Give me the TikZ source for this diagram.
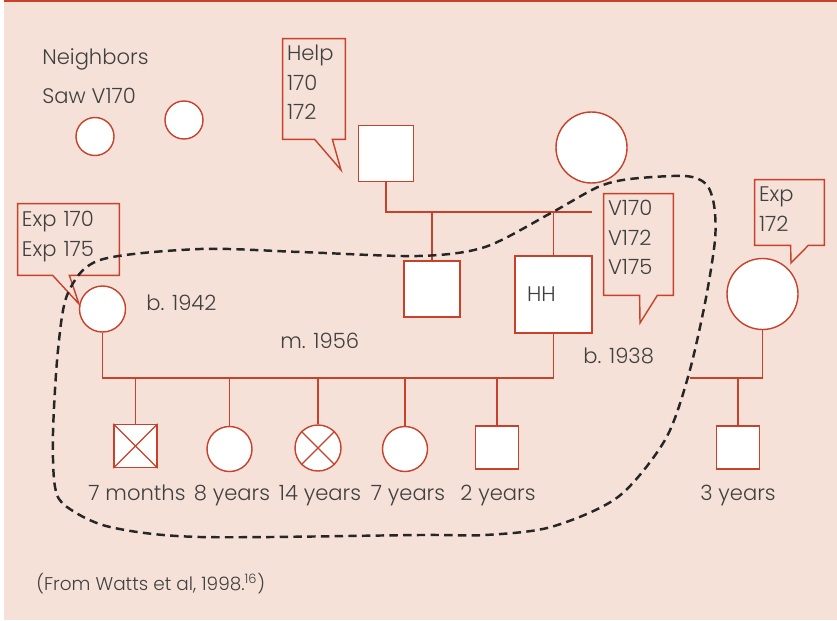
\documentclass[tikz,border=0pt]{standalone}
\usepackage{fontspec}
\setmainfont{Poppins}[UprightFont=* Light]
\usepackage{tikz}
\usepackage{xcolor}
\usetikzlibrary{positioning,calc}
\definecolor{pedred}{HTML}{C8412B}
\definecolor{pedbg}{HTML}{F5E1D8}
\definecolor{pedtext}{HTML}{404040}

\begin{document}
\begin{tikzpicture}[scale=0.2]
\tikzstyle{every node}+=[inner sep=0pt, text=pedtext, font=\fontsize{12}{16.8}\selectfont]
\tikzstyle{male}=[rectangle, draw=pedred, fill=white, line width=0.8pt]
\tikzstyle{female}=[circle, draw=pedred, fill=white, line width=0.8pt]
\tikzstyle{kin}=[draw=pedred, line width=0.8pt]
\tikzstyle{notebox}=[rectangle]
\tikzstyle{note}=[align=left]
\tikzstyle{lbl}=[anchor=base]
\useasboundingbox (0,0) rectangle (83.7,-62);
\fill [white] (0,0) rectangle (83.7,-62);
\fill [pedbg] (0.4,0) rectangle (83.7,-62);
\fill [pedred] (0.4,0) rectangle (83.7,-0.25);
\node (nbtitle) [anchor=base west] at (4.2,-6.5) {Neighbors};
\node (nbsaw) [anchor=base west] at (4.2,-10.4) {Saw V170};
\node (nbA) [female, minimum size=0.76cm] at (9.5,-13.65) {};
\node (nbB) [female, minimum size=0.76cm] at (18.4,-12) {};
\node (gpa) [male, minimum size=1.11cm] at (38.6,-15.35) {};
\node (gma) [female, minimum size=1.42cm] at (59.15,-14.75) {};
\node (uncle) [male, minimum size=1.12cm] at (43.2,-28.9) {};
\node (hh) [male, minimum size=1.54cm, text width=1.06cm, inner xsep=0.24cm, align=left] at (55.35,-29.45) {HH};
\node (mom) [female, minimum size=0.92cm] at (10.25,-30.9) {};
\node (wife) [female, minimum size=1.42cm] at (76.25,-29.4) {};
\node (k1) [male, minimum size=0.86cm] at (13.55,-44.6) {};
\node (k2) [female, minimum size=0.9cm] at (22.95,-44.9) {};
\node (k3) [female, minimum size=0.92cm] at (31.8,-44.8) {};
\node (k4) [female, minimum size=0.9cm] at (40.5,-44.9) {};
\node (k5) [male, minimum size=0.86cm] at (49.7,-44.75) {};
\node (k6) [male, minimum size=0.86cm] at (73.8,-44.75) {};
\draw [kin] (k1.north west) -- (k1.south east);
\draw [kin] (k1.north east) -- (k1.south west);
\draw [kin] (k3.north west) -- (k3.south east);
\draw [kin] (k3.north east) -- (k3.south west);
\coordinate (gline) at (59.2,-21.2);
\coordinate (sib) at (0,-37.8);
\coordinate (stub) at (69,-37.8);
\draw [kin] (gpa.south) |- (gline);
\draw [kin] (uncle.north |- gline) -- (uncle.north);
\draw [kin] (hh.north |- gline) -- (hh.north);
\draw [kin] (mom.south) |- (sib -| hh.south) -- (hh.south);
\draw [kin] (k1.north |- sib) -- (k1.north);
\draw [kin] (k2.north |- sib) -- (k2.north);
\draw [kin] (k3.north |- sib) -- (k3.north);
\draw [kin] (k4.north |- sib) -- (k4.north);
\draw [kin] (k5.north |- sib) -- (k5.north);
\draw [kin] (wife.south) |- (stub);
\draw [kin] (k6.north |- stub) -- (k6.north);
% callouts
\node (help) [notebox, minimum width=1.24cm, minimum height=2cm] at (31.4,-8.9) {};
\node (helptext) [note, text width=1.08cm] at (31.4,-8.25) {Help\\170\\172};
\coordinate (helptip) at (34.1,-17);
\draw [kin] (help.south west) |- (help.north east) |- (help.south east) -- ++(-1.3,0) -- (helptip) -- ($(help.south west)+(3.2,0)$) -- cycle;
\node (vnote) [notebox, minimum width=1.38cm, minimum height=2.02cm] at (63.85,-24.45) {};
\node (vtext) [note, text width=1.22cm] at (63.85,-23.75) {V170\\V172\\V175};
\coordinate (vtip) at (64,-32.3);
\draw [kin] (vnote.south west) |- (vnote.north east) |- (vnote.south east) -- ++(-1.6,0) -- (vtip) -- ($(vnote.south west)+(3.6,0)$) -- cycle;
\node (expB) [notebox, minimum width=1.38cm, minimum height=1.3cm] at (78.95,-21.25) {};
\node (expBtext) [note, text width=1.22cm] at (78.95,-20.9) {Exp\\172};
\coordinate (expBtip) at (79.1,-26.3);
\draw [kin] (expB.south west) |- (expB.north east) |- (expB.south east) -- ++(-1.6,0) -- (expBtip) -- ($(expB.south west)+(3.6,0)$) -- cycle;
\node (expA) [notebox, minimum width=2.02cm, minimum height=1.42cm] at (6.85,-23.95) {};
\node (expAtext) [note, text width=1.86cm] at (6.85,-23.65) {Exp 170\\Exp 175};
\coordinate (expAtip) at (7.9,-30.4);
\draw [kin] (expA.south west) |- (expA.north east) |- (expA.south east) -- ++(-5,0) -- (expAtip) -- ($(expA.south west)+(3.5,0)$) -- cycle;
% labels
\node (bmom) [anchor=base west] at (14.6,-31) {b. 1942};
\node (wed) [anchor=base west] at (28,-34.8) {m. 1956};
\node (bhh) [anchor=base west] at (58.3,-36.3) {b. 1938};
\node (l1) [lbl] at (13.7,-50) {7 months};
\node (l2) [lbl] at (23.2,-50) {8 years};
\node (l3) [lbl] at (32,-50) {14 years};
\node (l4) [lbl] at (40.8,-50) {7 years};
\node (l5) [lbl] at (49.8,-50) {2 years};
\node (l6) [lbl] at (73.8,-50) {3 years};
\node (src) [anchor=base west, font=\fontsize{10.5}{12}\selectfont] at (3.6,-59) {(From Watts et al, 1998.\textsuperscript{16})};
\draw [black!85, line width=1.4pt, dash pattern=on 4.8pt off 3pt] plot [smooth cycle] coordinates {(6.8,-29.3) (10,-26) (20,-24.9) (30,-25.2) (41.8,-25.6) (48.5,-24.7) (55.1,-21.3) (59.8,-18.7) (63,-17.9) (68.5,-17.6) (70.6,-18.4) (71.4,-20.5) (71.5,-24) (70.5,-30.3) (68.8,-37.7) (66.5,-44) (61.8,-49.7) (55.1,-52.7) (48.5,-53.5) (42,-53.5) (20,-53.7) (11,-52.7) (6.7,-50.7) (5.5,-48.7) (5.3,-43.3) (5.8,-35)};
\end{tikzpicture}
\end{document}
